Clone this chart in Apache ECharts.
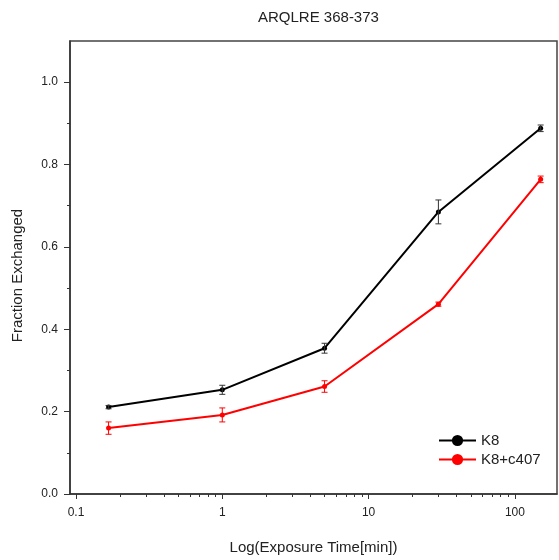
<!DOCTYPE html>
<html><head><meta charset="utf-8">
<script src="https://cdn.jsdelivr.net/npm/echarts@6/dist/echarts.min.js"></script>
<style>html,body{margin:0;padding:0;background:#fff}#c{width:559px;height:560px}</style>
</head><body><div id="c"></div>
<script>
const titleText = 'ARQLRE 368-373';
const xName = 'Log(Exposure Time[min])';
const yName = 'Fraction Exchanged';
const seriesNames = ['K8', 'K8+c407'];
const times = [0.167, 1, 5, 30, 150];
const k8 = [0.211, 0.253, 0.354, 0.685, 0.888];
const k8Err = [0.004, 0.011, 0.012, 0.029, 0.008];
const c407 = [0.160, 0.192, 0.261, 0.461, 0.764];
const c407Err = [0.015, 0.017, 0.014, 0.005, 0.008];
const xMajorTicks = [0.1, 1, 10, 100];
const xMinorTicks = [0.2, 0.3, 0.4, 0.5, 0.6, 0.7, 0.8, 0.9, 2, 3, 4, 5, 6, 7, 8, 9, 20, 30, 40, 50, 60, 70, 80, 90];
const yMajorTicks = [0, 0.2, 0.4, 0.6, 0.8, 1.0];
const yMinorTicks = [0.1, 0.3, 0.5, 0.7, 0.9];

const FONT = '"Liberation Sans", Arial, sans-serif';
const AX = '#333';

function errRender(color) {
  return function (params, api) {
    const x = api.value(0), y = api.value(1), e = api.value(2);
    const lo = api.coord([x, y - e]), hi = api.coord([x, y + e]);
    const w = 3;
    const st = { stroke: color, lineWidth: 1 };
    return { type: 'group', children: [
      { type: 'line', shape: { x1: lo[0], y1: lo[1], x2: hi[0], y2: hi[1] }, style: st },
      { type: 'line', shape: { x1: lo[0] - w, y1: lo[1], x2: lo[0] + w, y2: lo[1] }, style: st },
      { type: 'line', shape: { x1: hi[0] - w, y1: hi[1], x2: hi[0] + w, y2: hi[1] }, style: st }
    ]};
  };
}
const pts = (vals) => times.map((t, i) => [t, vals[i]]);
const errPts = (vals, errs) => times.map((t, i) => [t, vals[i], errs[i]]);

const xBase = { type: 'log', logBase: 10, min: 0.091, max: 194, gridIndex: 0, position: 'bottom', splitLine: { show: false } };
const yBase = { type: 'value', min: 0, max: 1.1, gridIndex: 0, position: 'left', splitLine: { show: false } };

const chart = echarts.init(document.getElementById('c'), null, { renderer: 'canvas' });
chart.setOption({
  backgroundColor: '#fff',
  animation: false,
  textStyle: { fontFamily: FONT },
  title: { text: titleText, left: 253, top: 5, textStyle: { fontFamily: FONT, fontSize: 15, fontWeight: 'normal', color: '#222' } },
  grid: { left: 70, right: 2, top: 41, bottom: 64, show: true, borderColor: '#444', borderWidth: 1.5, backgroundColor: 'transparent' },
  legend: {
    data: seriesNames, orient: 'vertical', left: 433, top: 428, itemWidth: 37, itemHeight: 14, itemGap: 4,
    textStyle: { fontFamily: FONT, fontSize: 15, color: '#222' }
  },
  xAxis: [
    Object.assign({}, xBase, {
      name: xName, nameLocation: 'middle', nameGap: 46,
      nameTextStyle: { fontFamily: FONT, fontSize: 15, color: '#222' },
      axisLine: { show: true, lineStyle: { color: AX, width: 1.5 } },
      axisTick: { show: true, inside: false, length: 5, customValues: xMajorTicks, lineStyle: { color: AX, width: 1 } },
      axisLabel: { show: true, customValues: xMajorTicks, margin: 13, fontFamily: FONT, fontSize: 12, color: '#222', formatter: v => String(+v) }
    }),
    Object.assign({}, xBase, {
      axisLine: { show: false },
      axisTick: { show: true, inside: false, length: 3, customValues: xMinorTicks, lineStyle: { color: AX, width: 1 } },
      axisLabel: { show: false }
    })
  ],
  yAxis: [
    Object.assign({}, yBase, {
      name: yName, nameLocation: 'middle', nameGap: 45,
      nameTextStyle: { fontFamily: FONT, fontSize: 15, color: '#222', padding: [0, 16, 0, 0] },
      axisLine: { show: true, lineStyle: { color: AX, width: 1.5 } },
      axisTick: { show: true, inside: false, length: 6, customValues: yMajorTicks, lineStyle: { color: AX, width: 1 } },
      axisLabel: { show: true, customValues: yMajorTicks, margin: 12, fontFamily: FONT, fontSize: 12, color: '#222', formatter: v => (+v).toFixed(1) }
    }),
    Object.assign({}, yBase, {
      axisLine: { show: false },
      axisTick: { show: true, inside: false, length: 3, customValues: yMinorTicks, lineStyle: { color: AX, width: 1 } },
      axisLabel: { show: false }
    })
  ],
  series: [
    { name: seriesNames[0], type: 'line', data: pts(k8), symbol: 'circle', symbolSize: 5,
      itemStyle: { color: '#000' }, lineStyle: { color: '#000', width: 2 }, z: 3 },
    { name: seriesNames[1], type: 'line', data: pts(c407), symbol: 'circle', symbolSize: 5,
      itemStyle: { color: '#ff0000' }, lineStyle: { color: '#ff0000', width: 2 }, z: 3 },
    { type: 'custom', name: 'errK8', renderItem: errRender('#333'), data: errPts(k8, k8Err), encode: { x: 0, y: 1 }, z: 4 },
    { type: 'custom', name: 'errC407', renderItem: errRender('#ff0000'), data: errPts(c407, c407Err), encode: { x: 0, y: 1 }, z: 4 }
  ]
});
</script>
</body></html>
